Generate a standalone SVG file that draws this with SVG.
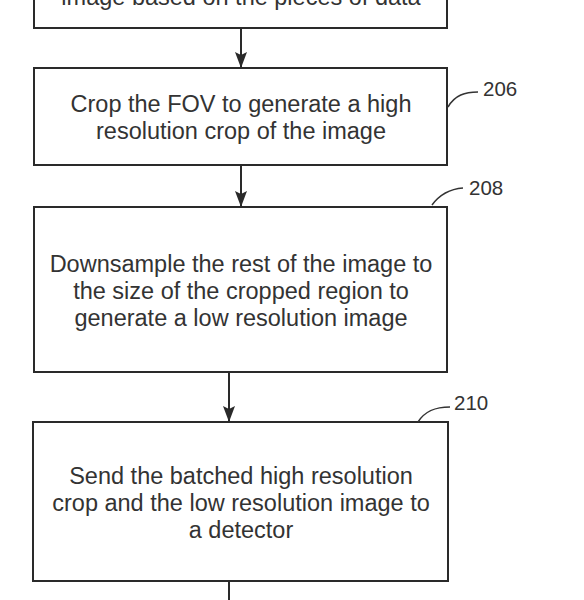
<svg xmlns="http://www.w3.org/2000/svg" width="584" height="600" viewBox="0 0 584 600">
<defs>
<marker id="arr" markerWidth="16" markerHeight="12" refX="15" refY="6" orient="auto" markerUnits="userSpaceOnUse" viewBox="0 0 16 12">
<path d="M0,0 L16,6 L0,12 L3,6 Z" fill="#2a2a2a"/>
</marker>
<style>
.box{fill:none;stroke:#2a2a2a;stroke-width:2}
.t{font-family:"Liberation Sans",Arial,sans-serif;font-size:23.5px;fill:#333;text-anchor:middle}
.ref{font-family:"Liberation Sans",Arial,sans-serif;font-size:20.5px;fill:#333}
.lead{fill:none;stroke:#333;stroke-width:1.5}
.conn{fill:none;stroke:#2a2a2a;stroke-width:2}
</style>
</defs>
<rect width="584" height="600" fill="#fff"/>
<g id="node204">
<rect class="box" x="34" y="-30" width="413" height="58"/>
<text class="t" x="241" y="5">image based on the pieces of data</text>
</g>
<g id="node206">
<rect class="box" x="34" y="68" width="413" height="97"/>
<text class="t" x="241" y="112">Crop the FOV to generate a high</text>
<text class="t" x="241" y="139">resolution crop of the image</text>
<path class="lead" d="M448,107 C455,95 465,92 478,92"/>
<text class="ref" x="483" y="96">206</text>
</g>
<g id="node208">
<rect class="box" x="34" y="207" width="413" height="165"/>
<text class="t" x="241" y="272">Downsample the rest of the image to</text>
<text class="t" x="241" y="299">the size of the cropped region to</text>
<text class="t" x="241" y="326">generate a low resolution image</text>
<path class="lead" d="M432,205 C440,194 450,189 463,188"/>
<text class="ref" x="469" y="195">208</text>
</g>
<g id="node210">
<rect class="box" x="33" y="422" width="415" height="159"/>
<text class="t" x="241" y="484">Send the batched high resolution</text>
<text class="t" x="241" y="511">crop and the low resolution image to</text>
<text class="t" x="241" y="538">a detector</text>
<path class="lead" d="M418,422 C425,411 435,407 450,407"/>
<text class="ref" x="454" y="410">210</text>
</g>
<g id="connectors">
<line class="conn" x1="241" y1="28" x2="241" y2="67" marker-end="url(#arr)"/>
<line class="conn" x1="241" y1="165" x2="241" y2="206" marker-end="url(#arr)"/>
<line class="conn" x1="229" y1="372" x2="229" y2="421" marker-end="url(#arr)"/>
<line class="conn" x1="229" y1="581" x2="229" y2="600"/>
</g>
</svg>
